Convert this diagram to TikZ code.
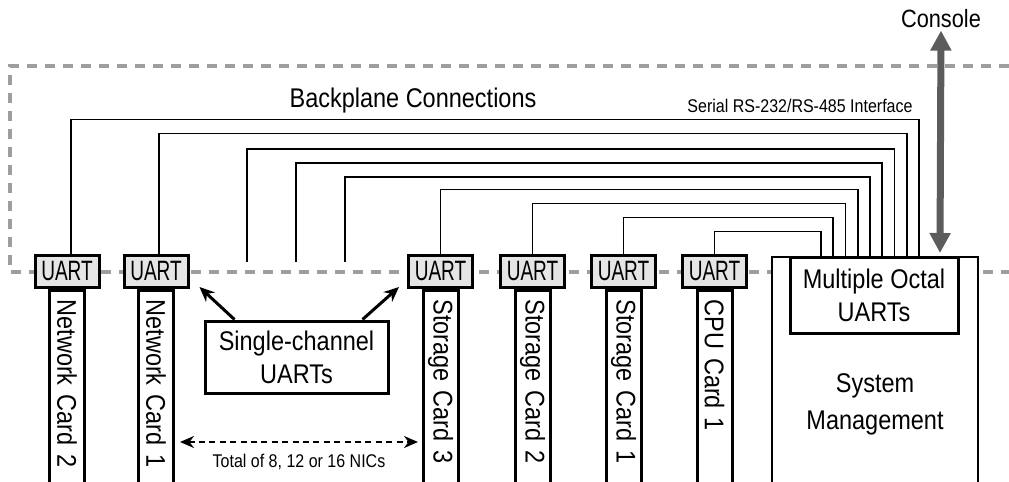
\documentclass[tikz,border=0pt]{standalone}
\usepackage{fontspec}
\setmainfont{Liberation Sans}[FakeStretch=0.87]
\newfontfamily\uartfont{Liberation Sans}[FakeStretch=0.68]
\usepackage{tikz}
\usetikzlibrary{arrows.meta}
\usetikzlibrary{positioning}
\definecolor{bpgray}{rgb}{0.62,0.62,0.62}
\definecolor{uartfill}{rgb}{0.90,0.90,0.90}
\definecolor{consgray}{rgb}{0.36,0.36,0.36}
\newcommand\bigtxt{\fontsize{13.5}{16.5}\selectfont}
\newcommand\smalltxt{\fontsize{9.2}{11}\selectfont}

\begin{document}
\begin{tikzpicture}[x=0.5pt, y=-0.5pt,
  uart/.style={draw, line width=1.5pt, fill=uartfill, minimum width=32pt, minimum height=16pt, inner sep=0pt, font=\uartfont\fontsize{14}{16}\selectfont},
  card/.style={draw, line width=1.5pt, rotate=-90, anchor=west, minimum height=17.5pt, text width=95pt, inner xsep=4.5pt, inner ysep=0pt, align=left, font=\bigtxt},
  wire/.style={line width=0.75pt},
  ptr/.style={line width=1.5pt, -{Stealth[length=7.5pt,width=6.5pt]}},
  nics/.style={line width=1.3pt, dash pattern=on 3pt off 2.2pt, {Stealth[length=7pt,width=6pt]}-{Stealth[length=7pt,width=6pt]}},
  conarrow/.style={line width=3.5pt, draw=consgray, {Triangle[length=10pt,width=10pt]}-{Triangle[length=10pt,width=10pt]}}]
  \useasboundingbox (0,0) rectangle (1009,482);

  % backplane outline
  \draw[bpgray, line width=2pt, dash pattern=on 5pt off 4pt] (1009,66) -- (10,66) -- (10,272) -- (1009,272);

  % system management card
  \node (sys) [draw, line width=1pt, fill=white, anchor=north, minimum width=103pt, minimum height=120pt] at (875,256) {};
  \node (muart) [draw, line width=1.5pt, fill=white, anchor=north, minimum width=84pt, minimum height=38pt, align=center, font=\bigtxt] at (874,256) {Multiple Octal\\UARTs};
  \node (systxt) [align=center, font=\fontsize{13.5}{18.5}\selectfont] at (875,404) {System\\Management};

  % UARTs on the cards
  \node (uN2) [uart] at (67,271.5) {UART};
  \node (uN1) [uart, right=11pt of uN2] {UART};
  \node (uS3) [uart] at (440.5,271.5) {UART};
  \node (uS2) [uart, right=12.5pt of uS3] {UART};
  \node (uS1) [uart, right=12pt of uS2] {UART};
  \node (uC1) [uart, right=12pt of uS1] {UART};

  \node (cN2) [card] at (uN2.south) {Network Card 2};
  \node (cN1) [card] at (uN1.south) {Network Card 1};
  \node (cS3) [card] at (uS3.south) {Storage Card 3};
  \node (cS2) [card] at (uS2.south) {Storage Card 2};
  \node (cS1) [card] at (uS1.south) {Storage Card 1};
  \node (cC1) [card] at (uC1.south) {CPU Card 1};

  \node (single) [draw, line width=1.5pt, minimum width=91.5pt, minimum height=36pt, align=center, font=\bigtxt] at (296.5,357) {Single-channel\\UARTs};

  \node (console) [font=\fontsize{12.5}{15}\selectfont, inner sep=1pt] at (941,19) {Console};
  \node (bptxt) [font=\bigtxt] at (413,101) {Backplane Connections};
  \node (serial) [font=\smalltxt] at (800,106) {Serial RS-232/RS-485 Interface};

  % slots without a card
  \coordinate (s3) at (247,262);
  \coordinate (s4) at (296,262);
  \coordinate (s5) at (345,262);

  % serial wires
  \draw[wire] ([xshift=2pt]uN2.north) -- ++(0,-134.5) -| ([xshift=22.5pt]muart.north);
  \draw[wire] ([xshift=1.5pt]uN1.north) -- ++(0,-120.5) -| ([xshift=16.4pt]muart.north);
  \draw[wire] (s3) -- ++(0,-113) -| ([xshift=10.25pt]muart.north);
  \draw[wire] (s4) -- ++(0,-99) -| ([xshift=4.1pt]muart.north);
  \draw[wire] (s5) -- ++(0,-85) -| ([xshift=-2pt]muart.north);
  \draw[wire] (uS3.north) -- ++(0,-64.5) -| ([xshift=-8.1pt]muart.north);
  \draw[wire] (uS2.north) -- ++(0,-50.5) -| ([xshift=-14.25pt]muart.north);
  \draw[wire] (uS1.north) -- ++(0,-36.5) -| ([xshift=-20.4pt]muart.north);
  \draw[wire] (uC1.north) -- ++(0,-22.5) -| ([xshift=-26.5pt]muart.north);

  \draw[conarrow] (console.south) -- ([xshift=32.5pt, yshift=1.5pt]sys.north);

  \draw[ptr] ([xshift=-31pt]single.north) -- ([shift={(5pt,1pt)}]uN1.south east);
  \draw[ptr] ([xshift=33pt]single.north) -- ([shift={(-4pt,1pt)}]uS3.south west);

  \coordinate (nl) at (180,442);
  \coordinate (nr) at (418,442);
  \draw[nics] (nl) -- node[below=2pt, font=\smalltxt] (nictxt) {Total of 8, 12 or 16 NICs} (nr);
\end{tikzpicture}
\end{document}
